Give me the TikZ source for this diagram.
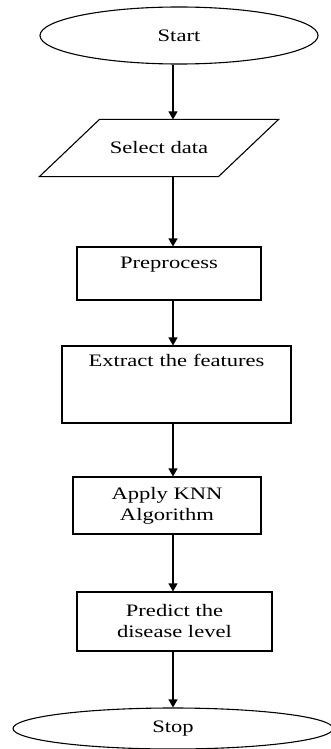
\documentclass[tikz,border=0pt]{standalone}
\usepackage{fontspec}
\setmainfont{Liberation Serif}[FakeStretch=1.29]
\usetikzlibrary{shapes.geometric,arrows.meta}

\tikzset{
    box/.style={rectangle, draw, line width=1.1pt, inner sep=0pt, align=center},
    term/.style={ellipse, draw, line width=1.1pt, inner sep=0pt},
    io/.style={rectangle, inner sep=0pt}
}

\begin{document}
\begin{tikzpicture}[x=1pt, y=-1pt, >={Triangle[length=8pt,width=9pt]}, line width=1.1pt,
    font=\fontsize{17.5}{21}\selectfont]
    \useasboundingbox (0,0) rectangle (331,749);
    \coordinate (axis) at (173,0);

    \node[term, minimum width=278, minimum height=57] (start) at (179,35.5) {Start};
    \node[io, minimum width=178, minimum height=56] (select) at (159,148) {Select data};
    \draw[line join=miter] ([xshift=-30pt]select.south west) -- ([xshift=30pt]select.north west)
        -- ([xshift=30pt]select.north east) -- ([xshift=-30pt]select.south east) -- cycle;
    \node[box, minimum width=184, text width=184, text height=21, text depth=32] (pre) at (169,273.5) {Preprocess};
    \node[box, minimum width=229, text width=229, text height=20, text depth=57] (feat) at (176.5,384.5) {Extract the features};
    \node[box, minimum width=188, minimum height=57] (knn) at (167,505.5) {Apply KNN\\Algorithm};
    \node[box, minimum width=195, minimum height=59] (pred) at (174.5,621.5) {Predict the\\disease level};
    \node[term, minimum width=320, minimum height=41] (stop) at (173,728.5) {Stop};

    \draw[->] (axis |- start.south) -- (axis |- select.north);
    \draw[->] (axis |- select.south) -- (axis |- pre.north);
    \draw[->] (axis |- pre.south) -- (axis |- feat.north);
    \draw[->] (axis |- feat.south) -- (axis |- knn.north);
    \draw[->] (axis |- knn.south) -- (axis |- pred.north);
    \draw[->] (axis |- pred.south) -- (axis |- stop.north);
\end{tikzpicture}
\end{document}
